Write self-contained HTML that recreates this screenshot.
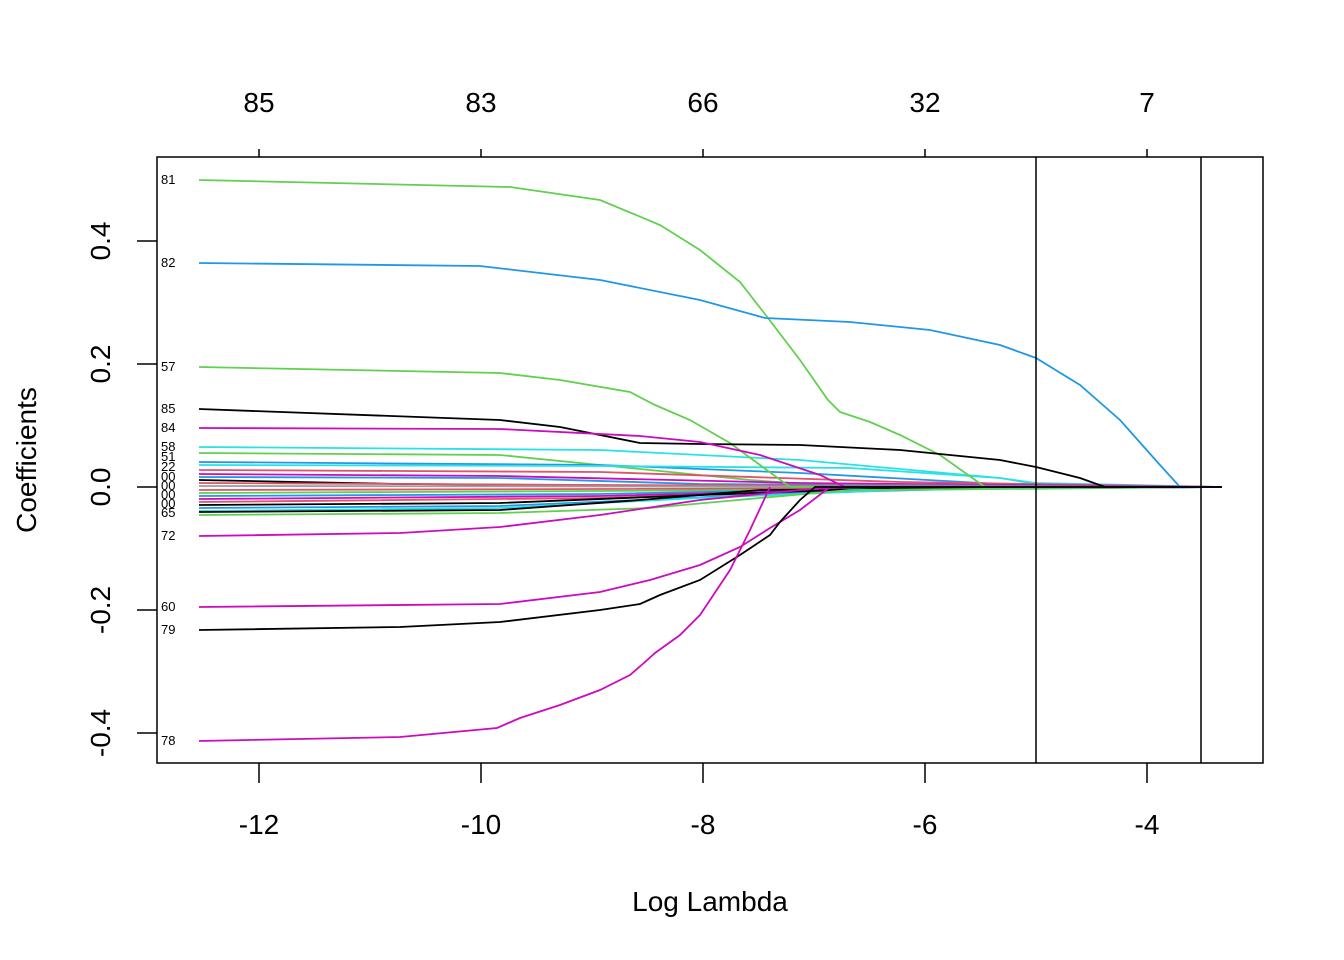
<!DOCTYPE html><html><head><style>body{margin:0;background:#fff}svg{display:block}text{font-family:"Liberation Sans",sans-serif}</style></head><body>
<svg width="1344" height="960" viewBox="0 0 1344 960" xmlns="http://www.w3.org/2000/svg">
<g fill="none" stroke-width="1.8">
<!-- small lines -->
<polyline stroke="#28e2e5" points="199,447 600,450 800,460 1000,478 1036,484 1222,487"/>
<polyline stroke="#61d04f" points="199,453 500,455 650,470 750,480 850,487 1222,487"/>
<polyline stroke="#2297e6" points="199,462 600,465 800,473 1000,484 1222,487"/>
<polyline stroke="#28e2e5" points="199,465 600,466 850,468 1000,478 1036,483 1222,487"/>
<polyline stroke="#df536b" points="199,470 600,472 900,482 1222,487"/>
<polyline stroke="#cd0bbc" points="199,474 500,476 800,483 1222,487"/>
<polyline stroke="#2297e6" points="199,477 500,478 700,484 1222,487"/>
<polyline stroke="#000" points="199,480 400,484 700,486 1222,487"/>
<polyline stroke="#df536b" points="199,483 600,485 1222,487"/>
<polyline stroke="#9e9e9e" points="199,486 1222,487"/>
<polyline stroke="#df536b" points="199,490 600,489 1222,487"/>
<polyline stroke="#61d04f" points="199,493 600,491 1222,487"/>
<polyline stroke="#2297e6" points="199,496 600,494 900,488 1222,487"/>
<polyline stroke="#cd0bbc" points="199,499 600,496 900,489 1222,487"/>
<polyline stroke="#df536b" points="199,502 600,498 900,489 1222,487"/>
<polyline stroke="#000" points="199,505 500,503 700,495 900,488 1222,487"/>
<polyline stroke="#2297e6" points="199,508 500,506 800,493 1000,488 1222,487"/>
<polyline stroke="#28e2e5" points="199,511 500,508 700,498 900,490 1222,487"/>
<polyline stroke="#000" points="199,512 500,510 640,500 760,490 1222,487"/>
<polyline stroke="#61d04f" points="199,515 500,513 650,508 760,498 850,490 1222,487"/>
<!-- main -->
<polyline stroke="#61d04f" points="199,180 510,187 600,200 660,225 700,250 740,282 768,318 800,360 828,400 840,412 870,422 900,435 940,455 985,487 1222,487"/>
<polyline stroke="#2297e6" points="199,263 480,266 600,280 700,300 765,318 850,322 930,330 1000,345 1036,358 1080,385 1120,420 1160,465 1180,487 1222,487"/>
<polyline stroke="#61d04f" points="199,367 500,373 560,380 630,392 655,405 690,420 730,443 760,465 790,487 1222,487"/>
<polyline stroke="#000" points="199,409 500,420 560,427 640,443 700,444 800,445 900,450 1000,460 1036,467 1080,478 1105,487 1222,487"/>
<polyline stroke="#cd0bbc" points="199,428 500,429 640,436 700,442 760,455 820,475 845,487 1222,487"/>
<polyline stroke="#cd0bbc" points="199,536 400,533 500,527 600,515 700,500 800,490 850,487"/>
<polyline stroke="#cd0bbc" points="199,607 500,604 600,592 650,580 700,565 740,547 770,528 800,510 830,487"/>
<polyline stroke="#000" points="199,630 400,627 500,622 600,610 640,604 660,595 700,580 740,555 770,535 780,522 800,500 815,487 1222,487"/>
<polyline stroke="#cd0bbc" points="199,741 400,737 497,728 520,718 560,705 600,690 630,675 645,662 655,653 680,635 700,615 730,570 750,530 770,487"/>
</g>
<g stroke="#000" stroke-width="1.5" fill="none">
<rect x="157" y="157" width="1106" height="606"/>
<line x1="1036" y1="157" x2="1036" y2="763"/><line x1="1201" y1="157" x2="1201" y2="763"/>
<path d="M259,763v20M481,763v20M703,763v20M925,763v20M1147,763v20M259,157v-8M481,157v-8M703,157v-8M925,157v-8M1147,157v-8M157,241h-20M157,364h-20M157,487h-20M157,610h-20M157,733h-20"/>
</g>
<g font-size="28" text-anchor="middle">
<text x="259" y="834">-12</text><text x="481" y="834">-10</text><text x="703" y="834">-8</text><text x="925" y="834">-6</text><text x="1147" y="834">-4</text>
<text x="259" y="112">85</text><text x="481" y="112">83</text><text x="703" y="112">66</text><text x="925" y="112">32</text><text x="1147" y="112">7</text>
<text x="710" y="911">Log Lambda</text>
<g transform="rotate(-90)"><text x="-241" y="110">0.4</text><text x="-364" y="110">0.2</text><text x="-487" y="110">0.0</text><text x="-610" y="110">-0.2</text><text x="-733" y="110">-0.4</text><text x="-460" y="36">Coefficients</text></g>
</g>
<g font-size="13">
<text x="161" y="184">81</text><text x="161" y="267">82</text><text x="161" y="371">57</text><text x="161" y="413">85</text><text x="161" y="432">84</text><text x="161" y="451">58</text><text x="161" y="461">51</text><text x="161" y="471">22</text>
<text x="161" y="481">00</text><text x="161" y="490">00</text><text x="161" y="499">00</text><text x="161" y="508">00</text><text x="161" y="517">65</text>
<text x="161" y="540">72</text><text x="161" y="611">60</text><text x="161" y="634">79</text><text x="161" y="745">78</text>
</g>
</svg></body></html>
